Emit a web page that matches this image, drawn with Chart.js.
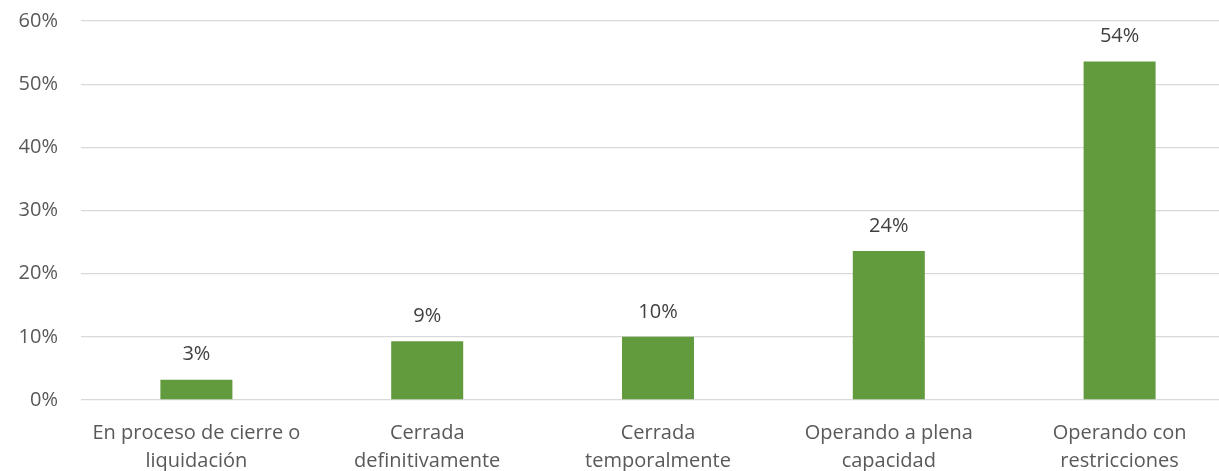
<!DOCTYPE html>
<html>
<head>
<meta charset="utf-8">
<script src="https://cdn.jsdelivr.net/npm/chart.js@4/dist/chart.umd.min.js"></script>
<style>
    html, body { margin: 0; padding: 0; background: #fff; overflow: hidden; }
    #wrap { width: 1235px; height: 471px; }
</style>
</head>
<body>
<div id="wrap"><canvas id="chart-estado"></canvas></div>
<script>
// data
const categories = [
    ['En proceso de cierre o', 'liquidación'],
    ['Cerrada', 'definitivamente'],
    ['Cerrada', 'temporalmente'],
    ['Operando a plena', 'capacidad'],
    ['Operando con', 'restricciones'],
]
const values = [3.2, 9.3, 10.0, 23.6, 53.6]
const yTicks = [0, 10, 20, 30, 40, 50, 60]

const fontFamily = '"Open Sans", "Noto Sans", sans-serif'

// labels above bars
const valueLabels = {
    id: 'valueLabels',
    afterDatasetsDraw(chart) {
        const ctx = chart.ctx
        const meta = chart.getDatasetMeta(0)
        ctx.save()
        ctx.font = '20px ' + fontFamily
        ctx.fillStyle = '#404040'
        ctx.textAlign = 'center'
        ctx.textBaseline = 'middle'
        meta.data.forEach((bar, i) => {
            ctx.fillText(Math.round(values[i]) + '%', bar.x, bar.y - 25)
        })
        ctx.restore()
    },
}

const ctx = document.getElementById('chart-estado').getContext('2d')
const chartEstado = new Chart(ctx, {
    type: 'bar',
    data: {
        labels: categories,
        datasets: [
            {
                data: values,
                backgroundColor: '#629B3E',
                borderWidth: 0,
                barPercentage: 0.312,
                categoryPercentage: 1,
            },
        ],
    },
    options: {
        responsive: true,
        maintainAspectRatio: false,
        animation: false,
        layout: {
            padding: { top: 21, right: 0, left: 0, bottom: 0 },
        },
        plugins: {
            legend: { display: false },
            tooltip: { enabled: false },
        },
        scales: {
            x: {
                grid: { display: false },
                border: { display: false },
                ticks: {
                    color: '#595959',
                    font: { family: fontFamily, size: 20, lineHeight: 1.4 },
                    padding: 11,
                    maxRotation: 0,
                    autoSkip: false,
                },
                afterFit: (s) => { s.height = 71 },
            },
            y: {
                min: yTicks[0],
                max: yTicks[yTicks.length - 1],
                afterBuildTicks: (s) => { s.ticks = yTicks.map((v) => ({ value: v })) },
                grid: { color: '#d9d9d9', lineWidth: 1.3, drawTicks: false },
                border: { display: false },
                ticks: {
                    color: '#595959',
                    font: { family: fontFamily, size: 20 },
                    padding: 23,
                    callback: (v) => v + '%',
                },
                // tick padding would otherwise push the plot top down
                afterFit: (s) => {
                    s.width = 81
                    s.paddingTop = 0
                    s.paddingBottom = 0
                },
            },
        },
    },
    plugins: [valueLabels],
})
</script>
</body>
</html>
